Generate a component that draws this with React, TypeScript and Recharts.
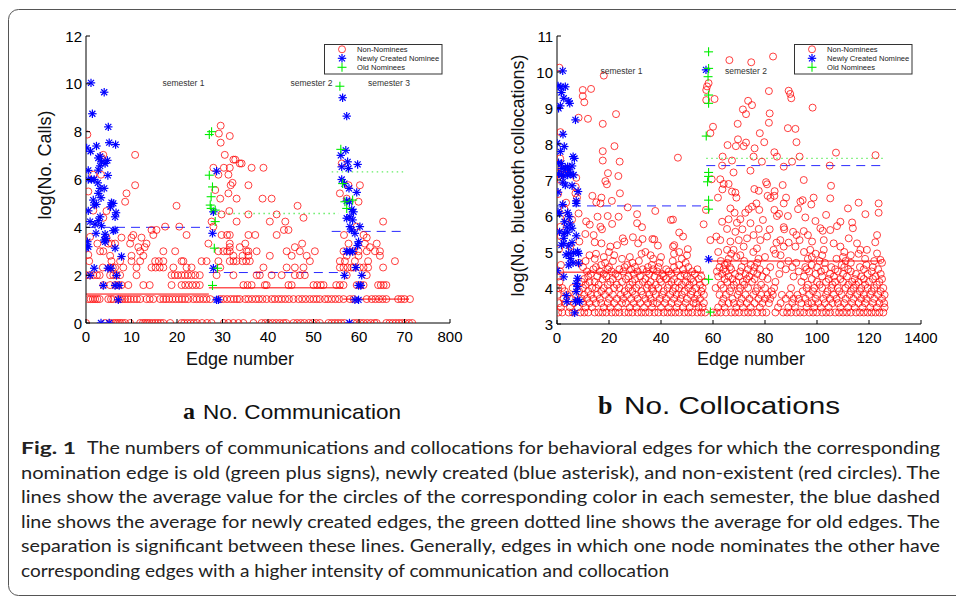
import React from 'react';
import { ScatterChart, Scatter, XAxis, YAxis, ReferenceLine } from 'recharts';

type Row = [number, number[]];
type Pair = [number, number];

// ---- (a) No. Communication : log(No. Calls) vs edge number ----
// non-nominees, grouped by log value (integer counts give fixed levels)
const callsNonNomineeRows: Row[] = [
  [0, [0, 4.2, 5.3, 6, 6.5, 7, 7.5, 8, 8.6, 9.7, 11.9, 12.5, 13, 13.5, 14, 14.6, 15.2, 15.8, 16.4, 17, 18.5, 21, 21.6, 22.3, 23, 23.7, 24.4, 25.5, 26.6, 27.6, 30.3, 31.3, 32.4, 33.5, 34.6, 36.8, 38.6, 39.4, 40.2, 41, 41.8, 42.6, 43.4, 44, 45.6, 46.4, 47.2, 48, 49, 49.8, 50.6, 51.4, 53.3, 54, 54.7, 55.4, 56.1, 56.8, 58.8, 59.5, 60.3, 61, 61.8, 62.6, 63.4, 63.9, 66, 66.7, 67.4, 68.1, 68.8, 69.5, 70.2, 71, 71.7]],
  [1, [0.5, 1, 1.5, 2, 2.5, 3, 4.9, 5.5, 6, 7, 7.5, 8, 8.6, 9.2, 9.8, 10.5, 11.2, 11.9, 13.3, 14, 14.8, 16.3, 17, 17.6, 18.3, 19, 19.7, 20.4, 21.1, 21.8, 22.5, 23.6, 24.3, 25, 25.8, 26.5, 27.3, 29.5, 30.2, 31, 31.8, 32.5, 33.2, 33.8, 35, 35.7, 36.5, 37.3, 38, 38.8, 39.7, 40.8, 41.5, 42.3, 43, 43.8, 44.6, 45.6, 46.7, 47.5, 48.3, 49.2, 50, 50.7, 51.4, 52.5, 53.2, 54, 54.8, 55.6, 56.6, 58, 58.8, 61.7, 62.8, 63.6, 64.4, 65.2, 66, 68.6, 69.3, 70, 71.2]],
  [1.585, [3.8, 5.3, 6.4, 7.1, 7.8, 9.3, 12.6, 14, 18.8, 21, 21.8, 22.6, 23.4, 24.2, 25, 34.6, 35.5, 36.4, 39.3, 39.7, 44.5, 45.2, 50, 50.8, 51.6, 52.2, 55, 55.8, 56.6, 59.5, 60.3, 61, 64.2, 64.8, 65.4, 66]],
  [2, [0, 0.8, 1.6, 2.4, 3, 5.3, 6, 6.7, 7.5, 11.1, 18.8, 19.5, 20.2, 21, 21.7, 22.4, 23.2, 24, 25, 28.7, 32.4, 37.5, 38.2, 40.8, 43, 45.9, 47, 48.1, 57.3, 61.7]],
  [2.32, [3.7, 5.3, 5.9, 6.4, 8.2, 11.1, 14.4, 15.3, 16.2, 17, 19.2, 22.1, 23.2, 29.5, 39, 44.1, 45.9, 47.8, 55.8, 56.6, 57.5, 58.3, 58.8, 60.2, 61, 62, 65.3]],
  [2.585, [0.7, 5.6, 7.5, 10, 11.9, 15.2, 16, 17, 21, 21.4, 25.4, 26.5, 29.1, 31.6, 32.4, 33.1, 34.4, 35.2, 36, 49.2, 55.8, 56.9, 59.1, 62, 67.9]],
  [2.81, [5.3, 10, 12.6, 32.4, 34.4, 35.7, 40.4, 45.2, 48.5, 57.3, 59.9, 64.6]],
  [3, [3.1, 3.8, 11.9, 17, 19.6, 29.1, 30.2, 31, 31.6, 35.3, 35.7, 37.5, 44.1, 47, 50.3, 56.6, 58.8, 59.9, 61.7, 63.5, 64.6]],
  [3.17, [11.5, 12.9, 31.6, 33.8, 45.9, 62.4]],
  [3.32, [2.5, 4.9, 5.6, 6.4, 9.7, 13.3, 26.9, 31.6, 35, 47.5, 57.7, 61.3, 63.9]],
];
const callsNonNomineeHigh: Pair[] = [
  [4.5, 3.57], [7.8, 3.57], [10, 3.57], [12.2, 3.57], [61.7, 3.57], [0.9, 3.6],
  [10.4, 3.68], [14.8, 3.68], [22.1, 3.68], [29.8, 3.68], [31, 3.68], [31.6, 3.68], [35.7, 3.68], [37.2, 3.68], [41.9, 3.68], [56.7, 3.68], [61, 3.68],
  [14.4, 3.89], [15.5, 3.89], [43.5, 3.89], [44.5, 3.89],
  [17.4, 4.03], [20.5, 4.03], [28, 4.03], [59.5, 4.03],
  [33.1, 4.24], [40.4, 4.24], [43.8, 4.24], [65.3, 4.24], [27.6, 4.24],
  [47.8, 4.4], [3.8, 4.4], [35.7, 4.54], [41.9, 4.54], [29.8, 4.54],
  [31.5, 4.68], [4.5, 4.68], [1.6, 4.7], [46.5, 4.9], [19.9, 4.9],
  [8.6, 5.07], [59.9, 5.07], [29.5, 5.2], [33.1, 5.2], [38.8, 5.2], [40.8, 5.2], [57.3, 5.2],
  [8.9, 5.42], [31.3, 5.42], [55.8, 5.42], [0.5, 5.5], [28.4, 5.56],
  [10.8, 5.76], [35.7, 5.76], [31.8, 5.76], [57.7, 5.76], [60.2, 5.76], [32.2, 5.86],
  [31.3, 6.2], [29.1, 6.2], [1.6, 6.2], [3.3, 6.2],
  [28, 6.49], [30.3, 6.49], [31.6, 6.49], [36.4, 6.49], [39, 6.49],
  [33.8, 6.67], [34.2, 6.67], [56.2, 6.67], [32.4, 6.83], [32.8, 6.83],
  [30.5, 7.03], [10.8, 7.03], [3.8, 7.03], [3.5, 6.9],
  [29.6, 7.54], [31.6, 7.82], [29.2, 7.92], [29.6, 8.25], [0.3, 7.88], [0.5, 2.85],
];
const callsNewNominees: Pair[] = [
  [1.1, 10.04], [4, 9.65], [1.4, 8.75], [4.9, 8.2], [5.1, 7.54], [6.5, 7.46], [0.15, 7.32], [1, 7.18], [2.3, 7.4],
  [3.1, 6.97], [2.7, 6.9], [4.7, 6.8], [3.4, 6.74], [4.2, 6.67], [3.1, 6.57], [0.5, 6.38], [2.7, 6.39], [4.8, 6.17],
  [0.5, 6], [1.2, 6], [1.8, 6], [2.6, 5.86], [4, 5.63], [3.1, 5.63], [2.7, 5.42], [3.3, 5.24], [1.6, 5.14],
  [1.8, 4.93], [2.3, 4.96], [5.6, 5.03], [5.4, 4.86], [6, 5], [0.5, 4.69], [6.6, 4.61], [6.4, 4.44],
  [0.9, 4.24], [2, 4.13], [2.7, 4.28], [3.1, 4.44], [3.4, 4.07], [2.2, 3.75], [4.2, 3.71], [6, 3.86], [6.4, 3.89],
  [4.4, 3.54], [4, 3.47], [4.2, 3.39], [0.3, 3.4], [0.5, 3.19], [0, 3.13], [6.4, 3.13], [7.8, 2.78],
  [1.8, 2.29], [4.8, 2.29], [5.5, 2.29], [0.9, 1.99], [6.7, 1.99], [3.8, 1.57], [6.4, 1.57], [7.3, 1.57],
  [7.1, 0.97], [3.3, 0], [5.1, 0],
  [28.7, 6.35], [27.8, 3.75], [28, 4.65], [28, 2.29], [28.7, 0.97], [29.1, 0.97],
  [56.4, 9.42], [57.3, 8.65], [57.1, 7.22], [56, 7.01], [56.2, 6.53], [57.5, 6.74], [57.7, 6.46], [59.7, 6.63],
  [56.2, 6], [56.8, 5.83], [57.8, 5.63], [59.5, 5.46], [57.3, 5.1], [57.9, 5.07], [58.4, 4.75], [58.8, 4.65],
  [57.3, 4.38], [58, 4.44], [58.6, 4.31], [58, 4.03], [58.4, 3.89], [59.1, 3.75], [60.2, 4.03], [59.9, 3.4],
  [59.7, 3.24], [57.3, 2.99], [58, 2.99], [58.6, 2.99], [59.3, 2.32], [60.6, 1.99], [56.8, 1.99],
  [59.9, 1.57], [60.4, 1.57], [59.1, 0.97], [59.9, 0.97], [57.9, 0],
];
const callsOldNominees: Pair[] = [
  [27.1, 7.88], [27.6, 8], [27.1, 6.18], [27.8, 5.69], [27.5, 5.28], [27.3, 4.93], [27.5, 4.79], [28.4, 4.72],
  [28.4, 4.24], [28.2, 3.13], [28.9, 2.29], [27.8, 1.57],
  [55.8, 9.9], [56, 7.26], [56.4, 5.83], [56.9, 5.07], [57.3, 4.79], [58.6, 5.14],
];
// semester averages: [kind, value, from edge, to edge]
const callsAverages: [string, number, number, number][] = [
  ['non', 1.21, 0, 27], ['non', 1.47, 27, 56.5], ['non', 1.0, 56.5, 71],
  ['new', 4.0, 0, 27], ['new', 2.11, 27, 56], ['new', 3.83, 54, 69.7],
  ['old', 4.58, 28, 55.5], ['old', 6.32, 54, 69.7],
];
const callsXTicks = [0, 10, 20, 30, 40, 50, 60, 70, 80];
const callsYTicks = [0, 2, 4, 6, 8, 10, 12];

// ---- (b) No. Collocations : log(No. bluetooth collocations) vs edge number ----
const collocNonNomineeRows: Row[] = [
  [3.32, [0.5, 2, 4.5, 6, 9, 10.5, 12, 14.5, 16, 17.5, 19, 21, 22.5, 24, 26, 27.5, 29, 31, 32.5, 34, 35.5, 37.5, 39, 41, 42.5, 44, 45.5, 47, 49, 50.5, 52, 54, 55.5, 57, 60, 61.5, 63, 65, 67, 68.5, 70, 72, 73.5, 75, 77, 79, 80.5, 84, 87, 88.5, 90, 92, 93.5, 95, 97, 98.5, 100, 102, 103.5, 105, 107, 108.5, 110, 111.5, 113, 115, 116.5, 118, 119.5, 121, 122.5, 124, 125.5]],
  [3.46, [1.5, 5, 8, 11, 13.5, 18, 20.5, 23.5, 28, 30.5, 33.5, 36.5, 40, 43, 46, 48.5, 51, 54.5, 56, 62, 64.5, 69, 71.5, 74.5, 78, 85, 89, 91.5, 96, 99, 101.5, 104.5, 109, 112, 114.5, 117.5, 120.5, 123, 126]],
  [3.58, [0.8, 3, 6.5, 10, 12.5, 15, 17, 19.5, 22, 25, 26.5, 29.5, 32, 35, 37, 38.5, 41.5, 44, 46.5, 49.5, 52.5, 53.5, 56.5, 63.5, 66, 68, 70.5, 73, 76, 79, 81.5, 86, 90.5, 94, 96.5, 98, 100.5, 103, 106, 108, 110.5, 113.5, 116, 118.5, 121.5, 124, 125.8]],
  [3.7, [2.5, 5.5, 9.5, 11.5, 14, 16.5, 20, 23, 25.5, 28.5, 31, 34, 36, 39.5, 42, 45, 47.5, 50, 53, 55, 64, 67.5, 71, 74, 77.5, 80, 82, 88, 91, 93, 95.5, 99.5, 102.5, 105, 107.5, 111, 114, 117, 119, 122, 125]],
  [3.81, [0.3, 4, 7, 10.5, 13, 15.5, 18.5, 21.5, 24.5, 27, 30, 33, 35.5, 38, 40.5, 43.5, 46, 48, 51.5, 54, 56.5, 62.5, 65, 69.5, 72.5, 75.5, 78.5, 81, 83, 86.5, 89.5, 92.5, 97, 100, 103.5, 106.5, 109.5, 112.5, 115.5, 118, 120.5, 123.5, 126]],
  [3.91, [3, 8.5, 12, 17, 20, 26, 29, 32.5, 37, 41, 44.5, 49, 52, 55.5, 66.5, 70, 76.5, 82.5, 94.5, 98.5, 104, 108.5, 113, 116.5, 121, 124.5]],
  [4.0, [0.5, 2, 6, 10, 13.5, 15, 18, 22, 24, 27.5, 30.5, 34.5, 36.5, 39, 42.5, 45.5, 47, 50.5, 53.5, 56, 61, 64, 67, 70.5, 73.5, 77, 80, 83.5, 90, 96, 99, 102, 105.5, 108, 111, 114, 117, 119.5, 122, 125.5]],
  [4.09, [11, 16, 19.5, 23, 28, 31.5, 35, 38, 43, 48, 51, 55, 63, 68, 72, 78.5, 96.5, 101, 106, 112, 115, 118.5, 123]],
  [4.17, [1, 9.5, 12.5, 14.5, 20.5, 25, 29, 33, 36, 40, 44, 46.5, 49.5, 52.5, 57, 65.5, 69, 71.5, 75, 84, 94, 100, 103.5, 107, 110, 113.5, 116, 120, 124]],
  [4.25, [10.5, 17.5, 21.5, 26.5, 30, 34, 39.5, 42, 45, 51.5, 54.5, 64.5, 67.5, 73, 76, 81, 98, 104.5, 109, 114.5, 118, 121.5, 125]],
  [4.32, [0.6, 12, 15.5, 19, 23.5, 27.5, 32, 37.5, 41, 47.5, 50, 55.5, 62, 66, 70, 74, 79, 91, 95, 102, 106.5, 111.5, 117, 122.5]],
  [4.39, [13, 18, 22.5, 29.5, 35.5, 40.5, 44, 49, 53, 63.5, 68.5, 72.5, 77, 85.5, 99.5, 105, 110, 115, 119.5, 124.5]],
  [4.46, [1.2, 11.5, 16.5, 21, 25.5, 31, 34.5, 38.5, 43, 46, 52, 61.5, 65, 70.5, 75.5, 80.5, 93, 97, 101.5, 108, 113, 121]],
  [4.52, [14, 19.5, 24, 28.5, 33, 37, 42, 48.5, 54, 64, 67, 73.5, 78, 88, 96, 103, 107, 112, 118, 123.5]],
  [4.58, [10, 15, 20, 26, 30, 35, 39, 45, 50.5, 62.5, 66.5, 71, 76, 82, 90.5, 95.5, 100, 105.5, 110.5, 116.5, 121.5]],
  [4.64, [1.5, 17, 27, 36.5, 47, 64.5, 74.5, 86, 98, 109.5, 119]],
  [4.7, [8.5, 18.5, 29, 39.5, 49.5, 65.5, 77, 92, 103, 113, 125]],
  [4.75, [11, 21.5, 31.5, 44.5, 63, 72, 89, 101, 111, 122]],
  [4.81, [14.5, 25, 37, 48, 66, 77.5, 96.5, 107.5, 118.5]],
  [4.86, [18, 28, 40, 69, 80, 98, 110]],
  [4.91, [12.5, 22, 36, 50, 70.5, 86, 102, 113]],
  [4.95, [15, 32.5, 45, 67, 84, 99.5, 116]],
  [5.0, [20, 34, 47, 62, 75.5, 95, 110.5]],
];
const collocNonNomineeHigh: Pair[] = [
  [0.9, 10.12], [18, 9.9], [9.9, 9.5], [13.1, 9.53], [9.9, 9.33], [10.5, 9.16], [8.3, 8.73], [11.9, 8.7], [22.7, 8.83],
  [17.6, 8.56], [1.3, 8.33], [22.1, 7.94], [17.6, 7.8], [17.6, 7.54], [24.1, 7.51], [46.5, 7.62], [19.6, 7.19], [23.6, 7.11],
  [18.6, 6.97], [19.2, 6.88], [24.2, 6.63], [13.6, 6.56], [17.1, 6.51], [21.1, 6.42], [15.1, 6.38], [27.2, 6.24], [16.7, 6.35],
  [37.8, 6.14], [30.8, 6.05], [3.5, 6.37], [8.3, 6.07], [5.8, 5.9], [11.2, 5.85], [19.5, 6], [23.7, 5.98], [12.6, 5.76],
  [15.6, 5.98], [16.7, 5.7], [17.3, 5.63], [21.2, 5.78], [30.8, 5.8], [32.7, 5.69], [43.8, 5.89], [44.6, 5.9],
  [32.9, 5.36], [36.7, 5.36], [37.4, 5.35], [25.3, 5.38], [25.9, 5.29], [29.2, 5.41], [47, 5.54], [48.5, 5.43],
  [10.9, 5.5], [14.1, 5.47], [8.6, 5.29], [14.5, 5.27], [17.1, 5.24], [20.5, 5.15], [23.1, 5.19], [38.8, 5.18],
  [44.6, 5.15], [50.3, 5.08], [45.1, 5.19], [31.2, 5.24], [5.1, 5.15], [0.8, 5.08], [1.5, 5.43], [3.7, 5.94],
  [2.9, 6.19], [1.3, 5.7], [0.4, 6.61], [1.3, 7], [1.5, 7.14], [7.4, 7.06], [7.2, 6.81], [7.1, 6.63], [7.7, 6.51],
  [0.6, 7.19], [1.2, 7.6], [1.9, 7.32], [4.1, 7.32],
  [56.4, 5.77], [57.3, 6.17], [58.3, 9.69], [57.7, 9.6], [57.4, 9.5], [57.4, 9.22], [60.6, 9.25], [60, 8.48], [59, 8.3],
  [66.3, 10.33], [74.7, 10.27], [83.1, 10.43], [81.5, 9.47], [89.1, 9.48], [89.7, 9.39], [90.1, 9.27], [98.3, 9.01],
  [73.5, 9.2], [75, 9.08], [71.5, 8.96], [72.7, 8.83], [81.8, 8.85], [81.5, 8.59], [69.5, 8.56], [88.8, 8.44], [91.7, 8.42],
  [78, 8.3], [69.6, 8.13], [65.6, 7.97], [68.8, 7.94], [71.8, 7.94], [72.7, 8.04], [76, 7.88], [79.7, 8.05], [92.1, 8.05],
  [83.6, 7.77], [84.6, 7.65], [107.3, 7.76], [122.5, 7.69], [63.7, 7.65], [75.6, 7.65], [93.3, 7.65], [63.5, 7.4],
  [67.3, 7.54], [78.8, 7.51], [87.2, 7.37], [104.9, 7.4], [90.4, 7.51], [62.8, 7.02], [67.9, 7.21], [74.4, 7.26],
  [94.9, 7], [59.5, 7.02], [63.6, 6.74], [64.1, 6.89], [66, 6.89], [67.3, 6.68], [68.6, 6.65], [69, 6.51], [75.9, 6.75],
  [77.6, 6.7], [80.4, 6.94], [80.8, 6.88], [86.8, 6.86], [83.7, 6.69], [61.9, 6.51], [81, 6.56], [82.1, 6.5], [83.6, 6.56],
  [88.1, 6.51], [105.4, 6.84], [94.5, 6.44], [87.2, 6.35], [98.7, 6.51], [105.1, 6.49], [66.7, 6.21], [68.3, 6.09],
  [72.4, 6.09], [73.7, 6.19], [75, 6.26], [76.7, 6.35], [77.8, 6.17], [83.6, 6.17], [85.4, 6.06], [93.6, 6.4], [92.7, 6.19],
  [97.8, 6.32], [111.9, 6.21], [116, 6.37], [123.7, 6.35], [123.7, 6.09], [118.6, 6.05], [63.5, 5.84], [66, 5.91],
  [69.2, 5.81], [70.5, 5.91], [79.2, 5.89], [84.6, 6], [88.8, 6], [95.5, 5.96], [103.5, 6.03], [107.7, 5.72], [109, 5.84],
  [99.4, 5.86], [61.3, 5.43], [65.4, 5.64], [68.6, 5.56], [71.3, 5.63], [74.4, 5.8], [77.6, 5.64], [81.8, 5.63],
  [87.2, 5.69], [87.4, 5.63], [90.8, 5.56], [92.1, 5.47], [94.9, 5.58], [101.3, 5.66], [102.2, 5.59], [105.1, 5.61],
  [113.8, 5.66], [113.5, 5.82], [123.1, 5.47], [122.4, 5.27], [59, 5.33], [62.8, 5.33], [66.7, 5.29], [69.9, 5.33],
  [73.1, 5.38], [75.6, 5.47], [78.2, 5.33], [80.8, 5.43], [84.4, 5.26], [85.9, 5.33], [89.1, 5.26], [93.3, 5.33],
  [96.5, 5.47], [98.1, 5.29], [102.6, 5.33], [106.4, 5.24], [109, 5.15], [112.2, 5.38], [115.4, 5.24], [116.7, 5.06],
  [119.2, 5.06], [65.4, 5.06], [67.9, 5.06], [71.8, 5.15], [76.9, 5.1], [83.3, 5.06], [87.2, 5.15], [91.7, 5.15],
  [97.4, 5.06], [102.6, 5.06], [123.1, 4.96], [124.4, 4.78],
];
const collocNewNominees: Pair[] = [
  [2.2, 10.03], [0.4, 9.61], [1.5, 9.59], [3.2, 9.59], [1.7, 9.43], [2.6, 9.27], [4.5, 9.19], [4.9, 9.13], [0.6, 8.99],
  [1.3, 9.06], [7.1, 8.67], [2.3, 8.27], [0, 8.02], [2.8, 7.93], [1.3, 7.79], [6.2, 7.65], [6.7, 7.6], [0.6, 7.48],
  [1.7, 7.46], [1.9, 7.32], [3.2, 7.31], [4.1, 7.37], [4.7, 7.28], [5.8, 7.39], [0.6, 7.17], [1.7, 7.14], [2.6, 7.12],
  [4.1, 7.14], [5.1, 7.16], [6.4, 7.14], [2.2, 6.94], [3.2, 6.86], [5.8, 6.84], [0.4, 6.66], [8.1, 6.68], [7.4, 6.42],
  [2.2, 6.32], [7.4, 6.35], [0.4, 6.12], [1, 6.07], [4.1, 6.09], [4.7, 5.98], [2.9, 5.84], [5.1, 5.78], [3.8, 5.69],
  [4.1, 5.55], [1, 5.56], [2.8, 5.52], [5.8, 5.66], [7.4, 5.45], [2.6, 5.38], [1.7, 5.19], [2.6, 5.24], [5.8, 5.26],
  [4.5, 5.17], [3.5, 4.92], [4.5, 4.96], [6.4, 4.98], [7.9, 5.01], [8.3, 4.96], [5.1, 4.82], [6.2, 4.7], [4.5, 4.64],
  [8.3, 4.69], [0, 4.48], [2.6, 4.31], [7.9, 4.27], [7.4, 4.13], [7.9, 4.04], [7.4, 3.9], [3.6, 3.79], [3.8, 3.62],
  [7.1, 3.62], [7.9, 3.67], [8.7, 3.62], [6.8, 3.31], [57.3, 10.06], [58.3, 4.8],
];
const collocOldNominees: Pair[] = [
  [58.3, 10.56], [58.3, 10.1], [58.1, 9.87], [58.3, 9.36], [58.3, 9.13], [57.4, 8.22], [58.3, 7.21], [58.3, 7.1],
  [57.9, 6.95], [58.3, 6.44], [58.3, 6.19], [58.3, 4.24], [59, 3.33],
];
const collocAverages: [string, number, number, number][] = [
  ['non', 4.44, 0, 56.5], ['non', 4.75, 58, 125],
  ['new', 6.28, 0, 57.7], ['new', 7.4, 57.4, 126.3],
  ['old', 7.6, 57.4, 126.3],
];
const collocXTicks = [0, 20, 40, 60, 80, 100, 120, 140];
const collocYTicks = [3, 4, 5, 6, 7, 8, 9, 10, 11];

const legendLabels = ['Non-Nominees', 'Newly Created Nominee', 'Old Nominees'];

const captionLines = [
  'nomination edge is old (green plus signs), newly created (blue asterisk), and non-existent (red circles). The',
  'lines show the average value for the circles of the corresponding color in each semester, the blue dashed',
  'line shows the average for newly created edges, the green dotted line shows the average for old edges. The',
  'separation is significant between these lines. Generally, edges in which one node nominates the other have',
  'corresponding edges with a higher intensity of communication and collocation',
];

const AXIS_FONT = '"Liberation Sans", Arial, Helvetica, sans-serif';
const CAPTION_FONT = 'Lato, "Open Sans", sans-serif';
const TICK_MARGIN = 10;

const rowsToPoints = (rows: Row[]) => rows.flatMap(([y, xs]) => xs.map((x) => ({ x, y })));
const pairsToPoints = (pairs: Pair[]) => pairs.map(([x, y]) => ({ x, y }));

const Circle = ({ cx, cy }: any) => (
  <circle cx={cx} cy={cy} r={3.5} fill="none" stroke="#ff0000" strokeWidth={0.75} />
);

const Star = ({ cx, cy }: any) => {
  const s = 4.2;
  const d = 3;
  return (
    <g stroke="#0000ff" strokeWidth={1.2}>
      <line x1={cx - s} y1={cy} x2={cx + s} y2={cy} />
      <line x1={cx} y1={cy - s} x2={cx} y2={cy + s} />
      <line x1={cx - d} y1={cy - d} x2={cx + d} y2={cy + d} />
      <line x1={cx - d} y1={cy + d} x2={cx + d} y2={cy - d} />
    </g>
  );
};

const Plus = ({ cx, cy }: any) => {
  const s = 4.5;
  return (
    <g stroke="#00ee00" strokeWidth={1.1}>
      <line x1={cx - s} y1={cy} x2={cx + s} y2={cy} />
      <line x1={cx} y1={cy - s} x2={cx} y2={cy + s} />
    </g>
  );
};

const lineStyle = (kind: string) => {
  if (kind === 'non') return { stroke: '#ff0000', strokeWidth: 1 };
  if (kind === 'new') return { stroke: '#2a2aff', strokeWidth: 1, strokeDasharray: '9 6' };
  return { stroke: '#66ee66', strokeWidth: 1.4, strokeDasharray: '1.5 3.5' };
};

const makeXTick = (fmt: (v: number) => string) => (p: any) => {
  const ay = p.y - TICK_MARGIN;
  return (
    <g>
      <line x1={p.x} x2={p.x} y1={ay} y2={ay - 4} stroke="#000" />
      <text x={p.x} y={ay + 19} textAnchor="middle" fontSize={15} fontFamily={AXIS_FONT} fill="#000">
        {fmt(p.payload.value)}
      </text>
    </g>
  );
};

const makeYTick = () => (p: any) => {
  const ax = p.x + TICK_MARGIN;
  return (
    <g>
      <line x1={ax} x2={ax + 4} y1={p.y} y2={p.y} stroke="#000" />
      <text x={ax - 4} y={p.y + 5.5} textAnchor="end" fontSize={15} fontFamily={AXIS_FONT} fill="#000">
        {p.payload.value}
      </text>
    </g>
  );
};

function Panel(props: {
  left: number; width: number; margin: any; xDomain: [number, number]; yDomain: [number, number];
  xTicks: number[]; yTicks: number[]; lastLabel: string;
  nonRows: Row[]; nonHigh: Pair[]; newer: Pair[]; older: Pair[]; averages: [string, number, number, number][];
}) {
  const last = props.xTicks[props.xTicks.length - 1];
  const fmt = (v: number) => (v === last ? props.lastLabel : String(v));
  return (
    <div style={{ position: 'absolute', left: props.left, top: 0 }}>
      <ScatterChart width={props.width} height={380} margin={props.margin}>
        <XAxis
          type="number" dataKey="x" domain={props.xDomain} ticks={props.xTicks} interval={0}
          tickLine={false} tickSize={0} tickMargin={TICK_MARGIN} height={30}
          axisLine={{ stroke: '#000' }} tick={makeXTick(fmt)} allowDataOverflow
        />
        <YAxis
          type="number" dataKey="y" domain={props.yDomain} ticks={props.yTicks} interval={0}
          tickLine={false} tickSize={0} tickMargin={TICK_MARGIN} width={40}
          axisLine={{ stroke: '#000' }} tick={makeYTick()} allowDataOverflow
        />
        <Scatter
          data={[...rowsToPoints(props.nonRows), ...pairsToPoints(props.nonHigh)]}
          shape={Circle} isAnimationActive={false}
        />
        <Scatter data={pairsToPoints(props.newer)} shape={Star} isAnimationActive={false} />
        <Scatter data={pairsToPoints(props.older)} shape={Plus} isAnimationActive={false} />
        {props.averages.map(([kind, y, a, b], i) => (
          <ReferenceLine key={i} segment={[{ x: a, y }, { x: b, y }]} ifOverflow="visible" {...lineStyle(kind)} />
        ))}
      </ScatterChart>
    </div>
  );
}

function LegendBox({ x }: { x: number }) {
  const rows = [49.3, 58.3, 67.3];
  const shapes = [Circle, Star, Plus];
  return (
    <g>
      <rect x={x + 0.5} y={44.5} width={117.5} height={29.5} fill="#fff" stroke="#333" strokeWidth={1} />
      {legendLabels.map((t, i) => {
        const S = shapes[i];
        return (
          <g key={t}>
            <S cx={x + 18} cy={rows[i]} />
            <text x={x + 33} y={rows[i] + 2.8} fontSize={7.6} fontFamily={AXIS_FONT} fill="#222">{t}</text>
          </g>
        );
      })}
    </g>
  );
}

export default function App() {
  return (
    <div style={{ position: 'absolute', left: 0, top: 0, width: 956, height: 601, background: '#fff' }}>
      <Panel
        left={0} width={470} margin={{ top: 36, right: 20, bottom: 27, left: 46 }}
        xDomain={[0, 80]} yDomain={[0, 12]} xTicks={callsXTicks} yTicks={callsYTicks} lastLabel="800"
        nonRows={callsNonNomineeRows} nonHigh={callsNonNomineeHigh}
        newer={callsNewNominees} older={callsOldNominees} averages={callsAverages}
      />
      <Panel
        left={490} width={450} margin={{ top: 36, right: 19, bottom: 26, left: 27 }}
        xDomain={[0, 140]} yDomain={[3, 11]} xTicks={collocXTicks} yTicks={collocYTicks} lastLabel="1400"
        nonRows={collocNonNomineeRows} nonHigh={collocNonNomineeHigh}
        newer={collocNewNominees} older={collocOldNominees} averages={collocAverages}
      />
      <svg width={956} height={601} style={{ position: 'absolute', left: 0, top: 0, pointerEvents: 'none' }}>
        <rect x={8.5} y={9.5} width={1000} height={586} rx={10} fill="none" stroke="#555" strokeWidth={1} />

        <LegendBox x={324} />
        <LegendBox x={794} />

        <g fontFamily={AXIS_FONT} fontSize={8.5} fill="#333" textAnchor="middle">
          <text x={183.5} y={86}>semester 1</text>
          <text x={311.5} y={86}>semester 2</text>
          <text x={389} y={86}>semester 3</text>
          <text x={621.5} y={74}>semester 1</text>
          <text x={746} y={74}>semester 2</text>
        </g>

        <g fontFamily={AXIS_FONT} fontSize={18} fill="#111" textAnchor="middle">
          <text x={45} y={165} transform="rotate(-90 45 165)" dominantBaseline="central">log(No. Calls)</text>
          <text x={518} y={175.5} transform="rotate(-90 518 175.5)" dominantBaseline="central">log(No. bluetooth collocations)</text>
          <text x={240} y={365}>Edge number</text>
          <text x={751} y={365}>Edge number</text>
        </g>

        <text x={183} y={419} fontFamily='"Liberation Serif", "Times New Roman", serif' fontWeight="bold" fontSize={24} fill="#111">a</text>
        <text x={203} y={419} fontFamily={AXIS_FONT} fontSize={21} fill="#111" textLength={198} lengthAdjust="spacingAndGlyphs">No. Communication</text>
        <text x={598} y={414} fontFamily='"Liberation Serif", "Times New Roman", serif' fontWeight="bold" fontSize={26} fill="#111">b</text>
        <text x={624} y={414} fontFamily={AXIS_FONT} fontSize={23} fill="#111" textLength={216} lengthAdjust="spacingAndGlyphs">No. Collocations</text>

        <g fontFamily={CAPTION_FONT} fontSize={17.5} fill="#222">
          <text x={21} y={454} fontWeight="bold" textLength={55} lengthAdjust="spacingAndGlyphs">Fig. 1</text>
          <text x={87} y={454} textLength={853} lengthAdjust="spacingAndGlyphs">
            The numbers of communications and collocations for behavioral edges for which the corresponding
          </text>
          {captionLines.map((t, i) => (
            <text key={i} x={21} y={478.6 + i * 24.6} textLength={i === 4 ? 648 : 919} lengthAdjust="spacingAndGlyphs">{t}</text>
          ))}
        </g>
      </svg>
    </div>
  );
}
